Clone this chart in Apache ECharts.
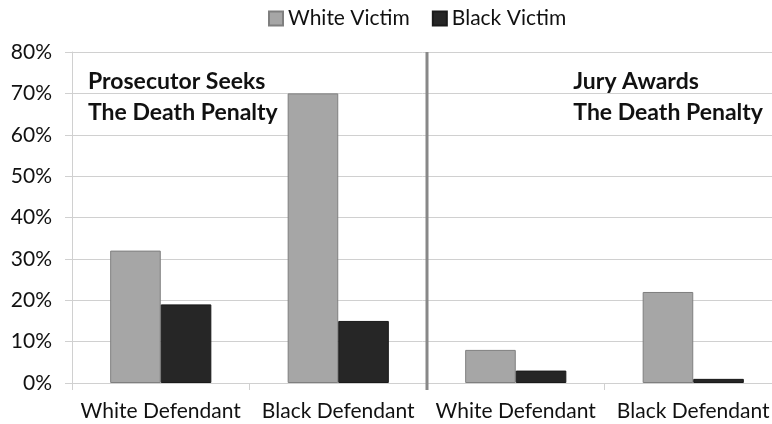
<!DOCTYPE html>
<html><head><meta charset="utf-8">
<script src="https://cdn.jsdelivr.net/npm/echarts@6/dist/echarts.min.js"></script>
<style>html,body{margin:0;padding:0;background:#fff}#c{width:772px;height:424px}</style>
</head><body><div id="c"></div>
<script>
const categories = ['White Defendant', 'Black Defendant', 'White Defendant', 'Black Defendant'];
const whiteVictim = [0.32, 0.70, 0.08, 0.22];
const blackVictim = [0.19, 0.15, 0.03, 0.01];
const yTicks = [0, 0.1, 0.2, 0.3, 0.4, 0.5, 0.6, 0.7, 0.8];
// separator drawn after this category index (between the two panels)
const separatorAfter = [1];
const FONT = 'Lato';
const chart = echarts.init(document.getElementById('c'));
chart.setOption({
  animation: false,
  legend: {
    top: 3, left: 263, icon: 'rect', itemWidth: 14, itemHeight: 14, itemGap: 22,
    textStyle: { fontFamily: FONT, fontSize: 21, color: '#111' },
    data: ['White Victim', 'Black Victim']
  },
  grid: { left: 72, top: 52, width: 710, height: 331, outerBoundsMode: 'none', containLabel: false },
  xAxis: {
    type: 'category', data: categories,
    axisLine: { show: true, lineStyle: { color: '#d0d0d0', width: 1 } },
    axisTick: { show: true, length: 7, lineStyle: { color: '#d0d0d0' } },
    axisLabel: { interval: 0, margin: 18, fontFamily: FONT, fontSize: 21, color: '#111' },
    splitLine: { show: false }
  },
  yAxis: {
    type: 'value', min: 0, max: 0.8, interval: 0.1,
    axisLine: { show: true, lineStyle: { color: '#d0d0d0' } },
    axisTick: { show: true, length: 7, lineStyle: { color: '#d0d0d0' } },
    axisLabel: {
      margin: 20, fontFamily: FONT, fontSize: 21, color: '#111',
      formatter: (v) => { const t = yTicks.find(x => Math.abs(x - v) < 1e-9); return Math.round((t ?? v) * 100) + '%'; }
    },
    splitLine: { show: true, lineStyle: { color: '#d0d0d0', width: 1 } }
  },
  series: [
    { name: 'White Victim', type: 'bar', data: whiteVictim, barGap: '0%', barCategoryGap: '43%',
      itemStyle: { color: '#a6a6a6', borderColor: '#7f7f7f', borderWidth: 1 } },
    { name: 'Black Victim', type: 'bar', data: blackVictim, barGap: '0%', barCategoryGap: '43%',
      itemStyle: { color: '#262626', borderColor: '#1a1a1a', borderWidth: 1 } },
    { name: 'separator', type: 'custom', silent: true, z: 5,
      data: separatorAfter.map(i => [i]),
      renderItem: (params, api) => {
        const idx = api.value(0);
        const top = api.coord([idx, 0.8]);
        const bottom = api.coord([idx, 0]);
        const half = api.size([1, 0])[0] / 2;
        const x = top[0] + half;
        return { type: 'line', shape: { x1: x, y1: top[1], x2: x, y2: bottom[1] + 7 },
                 style: { stroke: '#888', lineWidth: 3 } };
      } }
  ],
  graphic: [
    { type: 'text', left: 88, top: 66, style: { text: 'Prosecutor Seeks\nThe Death Penalty', fontFamily: FONT, fontWeight: 'bold', fontSize: 23, lineHeight: 31, fill: '#111', align: 'left' } },
    { type: 'text', right: 9, top: 66, style: { text: 'Jury Awards\nThe Death Penalty', fontFamily: FONT, fontWeight: 'bold', fontSize: 23, lineHeight: 31, fill: '#111', align: 'right' } }
  ]
});
</script></body></html>
